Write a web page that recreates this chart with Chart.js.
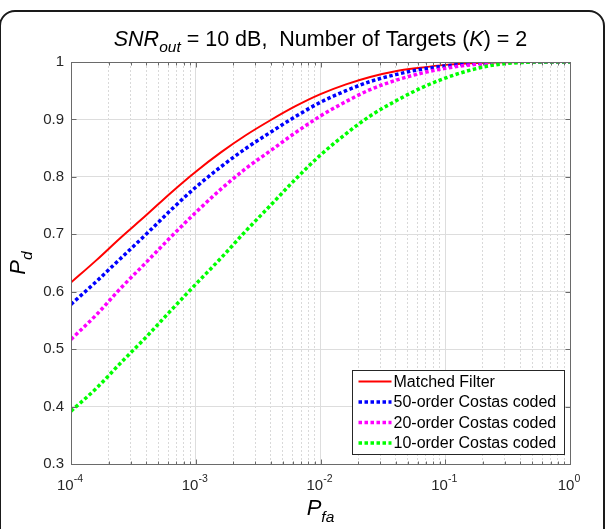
<!DOCTYPE html>
<html lang="en">
<head>
<meta charset="UTF-8">
<title>Pd vs Pfa</title>
<script src="https://cdn.jsdelivr.net/npm/chart.js@4.4.1/dist/chart.umd.min.js"></script>
<style>
    html, body { margin: 0; padding: 0; background: #fff; }
    #wrap { position: relative; width: 605px; height: 529px; overflow: hidden; }
    #myChart { position: absolute; left: 0; top: 0; }
    #frame { position: absolute; left: -1px; top: 10px; width: 602px; height: 600px;
             border: 2px solid #1a1a1a; border-radius: 16px; pointer-events: none; }
</style>
</head>
<body>
<div id="wrap">
    <canvas id="myChart" width="605" height="529"></canvas>
    <div id="frame"></div>
</div>
<script>
    // P_fa sample points (about 5 per decade)
    const pfa = [1e-4, 1.6e-4, 2.5e-4, 4e-4, 6.3e-4,
                 1e-3, 1.6e-3, 2.5e-3, 4e-3, 6.3e-3,
                 1e-2, 1.6e-2, 2.5e-2, 4e-2, 6.3e-2,
                 0.1, 0.16, 0.25, 0.4, 0.63, 1];

    // P_d
    const matchedFilter = [0.616, 0.655, 0.694, 0.733, 0.772, 0.809, 0.843, 0.872, 0.899, 0.923, 0.944,
                           0.961, 0.974, 0.984, 0.990, 0.995, 0.998, 0.999, 1.000, 1.000, 1.000];
    const costas50 = [0.578, 0.618, 0.658, 0.700, 0.742, 0.782, 0.818, 0.849, 0.878, 0.905, 0.930,
                      0.950, 0.966, 0.978, 0.987, 0.993, 0.997, 0.999, 1.000, 1.000, 1.000];
    const costas20 = [0.517, 0.560, 0.606, 0.651, 0.695, 0.738, 0.779, 0.814, 0.846, 0.877, 0.906,
                      0.931, 0.952, 0.968, 0.980, 0.989, 0.995, 0.998, 1.000, 1.000, 1.000];
    const costas10 = [0.392, 0.432, 0.476, 0.521, 0.567, 0.613, 0.659, 0.705, 0.751, 0.796, 0.838,
                      0.875, 0.906, 0.932, 0.954, 0.972, 0.986, 0.995, 0.999, 1.000, 1.000];

    const seriesNames = ['Matched Filter', '50-order Costas coded', '20-order Costas coded', '10-order Costas coded'];

    // axis ticks
    const xDecades = [1e-4, 1e-3, 1e-2, 1e-1, 1];
    const xExponents = ['-4', '-3', '-2', '-1', '0'];
    const xMinorSteps = [2, 3, 4, 5, 6, 7, 8, 9];
    const yTicks = [0.3, 0.4, 0.5, 0.6, 0.7, 0.8, 0.9, 1];
    const yTickLabels = ['0.3', '0.4', '0.5', '0.6', '0.7', '0.8', '0.9', '1'];

    const FONT = '"Liberation Sans", Arial, sans-serif';
    const axisColor = '#6a6a6a';
    const textColor = '#262626';

    const xGridTicks = [];
    xDecades.forEach((d, i) => {
        xGridTicks.push({value: d, major: true});
        if (i < xDecades.length - 1) xMinorSteps.forEach(m => xGridTicks.push({value: m * d, major: false}));
    });

    function pts(ys) {
        return pfa.map((x, i) => ({x: x, y: ys[i]}));
    }

    const dotted = {borderWidth: 3.5, borderDash: [3.5, 2.5], borderCapStyle: 'butt'};

    const data = {
        datasets: [
            {label: seriesNames[0], data: pts(matchedFilter), borderColor: '#ff0000', borderWidth: 2, order: 3},
            Object.assign({label: seriesNames[1], data: pts(costas50), borderColor: '#0000ff', order: 2}, dotted),
            Object.assign({label: seriesNames[2], data: pts(costas20), borderColor: '#ff00ff', order: 1}, dotted),
            Object.assign({label: seriesNames[3], data: pts(costas10), borderColor: '#00ff00', order: 0}, dotted)
        ]
    };

    function line(ctx, x1, y1, x2, y2) {
        ctx.beginPath();
        ctx.moveTo(x1, y1);
        ctx.lineTo(x2, y2);
        ctx.stroke();
    }

    // draws a run of text pieces (with sub/superscripts), centred on cx
    function drawPieces(ctx, pieces, cx, baseline) {
        let total = 0;
        pieces.forEach(p => {
            ctx.font = (p.italic ? 'italic ' : '') + p.size + 'px ' + FONT;
            p.w = ctx.measureText(p.t).width;
            total += p.w;
        });
        let x = cx - total / 2;
        ctx.textAlign = 'left';
        ctx.textBaseline = 'alphabetic';
        pieces.forEach(p => {
            ctx.font = (p.italic ? 'italic ' : '') + p.size + 'px ' + FONT;
            ctx.fillText(p.t, x, baseline + (p.dy || 0));
            x += p.w;
        });
    }

    const matlabLook = {
        id: 'matlabLook',
        afterDraw(chart) {
            const {ctx, chartArea: a, scales: {x, y}} = chart;
            const L = Math.round(a.left) + 0.5, R = Math.round(a.right) + 0.5;
            const T = Math.round(a.top) + 0.5, B = Math.round(a.bottom) + 0.5;
            ctx.save();

            // axes box + inward ticks
            ctx.strokeStyle = axisColor;
            ctx.lineWidth = 1;
            ctx.setLineDash([]);
            ctx.strokeRect(L, T, R - L, B - T);
            x.ticks.forEach(t => {
                const px = Math.round(x.getPixelForValue(t.value)) + 0.5;
                const len = t.major ? 5 : 3;
                line(ctx, px, B, px, B - len);
                line(ctx, px, T, px, T + len);
            });
            y.ticks.forEach(t => {
                const py = Math.round(y.getPixelForValue(t.value)) + 0.5;
                line(ctx, L, py, L + 5, py);
                line(ctx, R, py, R - 5, py);
            });

            // y tick labels
            ctx.fillStyle = textColor;
            ctx.font = '15px ' + FONT;
            ctx.textAlign = 'right';
            ctx.textBaseline = 'middle';
            yTicks.forEach((v, i) => ctx.fillText(yTickLabels[i], a.left - 7, y.getPixelForValue(v)));

            // x tick labels 10^k
            xDecades.forEach((v, i) => {
                drawPieces(ctx, [
                    {t: '10', size: 15},
                    {t: xExponents[i], size: 10.5, dy: -8}
                ], x.getPixelForValue(v) - 1, a.bottom + 26);
            });

            // title
            ctx.fillStyle = '#000';
            drawPieces(ctx, [
                {t: 'SNR', size: 21.5, italic: true},
                {t: 'out', size: 15.5, italic: true, dy: 6},
                {t: ' = 10 dB,  Number of Targets (', size: 21.5},
                {t: 'K', size: 21.5, italic: true},
                {t: ') = 2', size: 21.5}
            ], (a.left + a.right) / 2, a.top - 16);

            // x label
            drawPieces(ctx, [
                {t: 'P', size: 22, italic: true},
                {t: 'fa', size: 15.5, italic: true, dy: 7}
            ], (a.left + a.right) / 2, a.bottom + 51);

            // y label
            ctx.save();
            ctx.translate(a.left - 46, (a.top + a.bottom) / 2);
            ctx.rotate(-Math.PI / 2);
            drawPieces(ctx, [
                {t: 'P', size: 22, italic: true},
                {t: 'd', size: 15.5, italic: true, dy: 7}
            ], 0, 0);
            ctx.restore();

            // legend (bottom right, inside the axes)
            const lw = 212, lh = 84;
            const lx = Math.round(a.right - 6 - lw) + 0.5;
            const ly = Math.round(a.bottom - 10 - lh) + 0.5;
            ctx.fillStyle = '#fff';
            ctx.fillRect(lx, ly, lw, lh);
            ctx.strokeStyle = '#262626';
            ctx.lineWidth = 1;
            ctx.setLineDash([]);
            ctx.strokeRect(lx, ly, lw, lh);
            chart.data.datasets.forEach((ds, i) => {
                const cy = ly + 11 + i * 20.5;
                ctx.save();
                ctx.strokeStyle = ds.borderColor;
                ctx.lineWidth = ds.borderWidth;
                ctx.lineCap = 'butt';
                ctx.setLineDash(ds.borderDash || []);
                line(ctx, lx + 6, cy, lx + 39, cy);
                ctx.restore();
                ctx.fillStyle = '#000';
                ctx.font = '16px ' + FONT;
                ctx.textAlign = 'left';
                ctx.textBaseline = 'middle';
                ctx.fillText(ds.label, lx + 41, cy + 1);
            });

            ctx.restore();
        }
    };

    const ctx = document.getElementById('myChart').getContext('2d');
    const myChart = new Chart(ctx, {
        type: 'line',
        data: data,
        options: {
            responsive: false,
            animation: false,
            devicePixelRatio: 1,
            layout: {padding: {left: 71, right: 35, top: 62, bottom: 65}},
            elements: {
                point: {radius: 0, hoverRadius: 0},
                line: {cubicInterpolationMode: 'monotone', fill: false}
            },
            plugins: {
                legend: {display: false},
                title: {display: false},
                tooltip: {enabled: false}
            },
            scales: {
                x: {
                    type: 'logarithmic',
                    min: 1e-4,
                    max: 1,
                    afterBuildTicks: scale => { scale.ticks = xGridTicks.map(t => ({value: t.value, major: t.major})); },
                    ticks: {display: false},
                    grid: {
                        drawTicks: false,
                        lineWidth: 1,
                        color: c => (c.tick && !c.tick.major) ? '#d9d9d9' : '#dddddd'
                    },
                    border: {
                        display: false,
                        dash: c => (c.tick && !c.tick.major) ? [2, 2] : []
                    }
                },
                y: {
                    type: 'linear',
                    min: 0.3,
                    max: 1,
                    afterBuildTicks: scale => { scale.ticks = yTicks.map(v => ({value: v})); },
                    ticks: {display: false},
                    grid: {drawTicks: false, lineWidth: 1, color: '#dddddd'},
                    border: {display: false}
                }
            }
        },
        plugins: [matlabLook]
    });
</script>
</body>
</html>
